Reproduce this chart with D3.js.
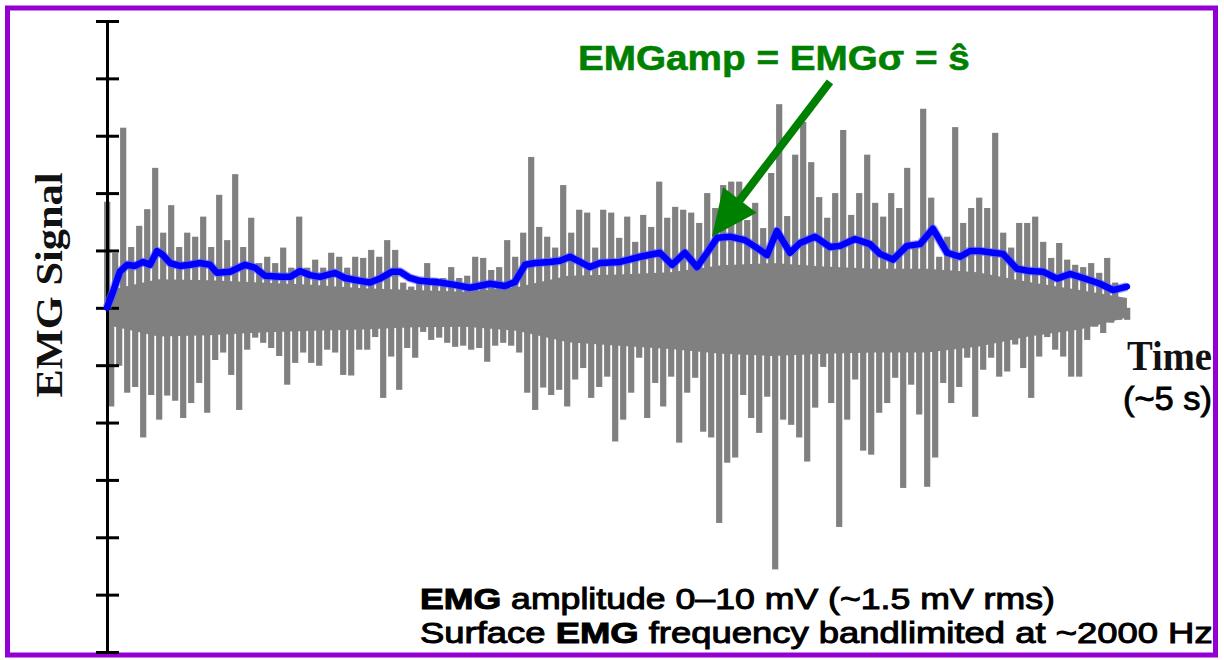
<!DOCTYPE html>
<html>
<head>
<meta charset="utf-8">
<script src="https://cdn.jsdelivr.net/npm/d3@7"></script>
<style>
  body { margin: 0; background: #fff; }
  svg { display: block; }
</style>
</head>
<body>
<script>
'use strict';

// positive excursions of the raw EMG trace (mV), one every other sample
const peaks = [
  1.85, 0.96, 3.14, 1.06, 1.43, 1.72, 2.44, 1.31, 1.79, 1.06, 1.31, 1.24, 1.59, 1.06, 1.97, 1.18,
  2.33, 1.06, 1.57, 0.78, 0.89, 0.78, 1.05, 0.70, 1.59, 0.70, 0.84, 0.70, 0.96, 0.89, 0.70, 0.89,
  0.87, 1.01, 0.89, 1.18, 1.01, 0.44, 0.37, 0.52, 0.78, 0.52, 0.52, 0.71, 0.52, 0.56, 0.89, 0.87,
  0.66, 0.71, 1.18, 0.89, 1.31, 2.63, 1.41, 1.24, 1.05, 2.14, 1.31, 1.71, 1.66, 1.05, 1.71, 1.66,
  1.22, 1.59, 1.15, 1.62, 1.41, 2.20, 1.57, 1.76, 1.71, 1.66, 1.48, 2.00, 1.74, 2.14, 2.20, 2.20,
  1.53, 1.83, 1.39, 2.35, 3.55, 1.60, 2.67, 3.24, 2.54, 1.93, 1.57, 2.00, 3.10, 1.62, 2.00, 2.67,
  1.83, 1.59, 2.00, 1.74, 2.44, 1.05, 3.47, 1.92, 0.89, 1.24, 3.15, 1.48, 1.74, 1.92, 1.74, 3.05,
  1.31, 1.05, 1.48, 1.48, 1.59, 1.15, 0.87, 1.13, 0.84, 0.75, 0.71, 0.78, 0.61, 0.87, 0.44, 0.17
];
// negative excursions (mV, as depths below zero), interleaved with the peaks
const troughs = [
  1.72, 1.01, 1.48, 1.38, 2.26, 1.52, 1.95, 1.53, 1.62, 1.92, 1.66, 1.31, 1.83, 0.91, 0.78, 1.17,
  1.78, 0.73, 0.52, 0.61, 0.70, 0.84, 1.34, 0.96, 0.78, 0.96, 1.01, 0.73, 0.78, 1.17, 1.18, 0.73,
  0.73, 0.51, 1.57, 0.85, 1.43, 0.70, 0.87, 0.42, 0.56, 0.52, 0.61, 0.68, 0.66, 0.73, 0.70, 0.94,
  0.66, 0.61, 0.66, 0.78, 1.48, 1.78, 1.39, 1.52, 1.43, 1.72, 1.25, 1.05, 1.57, 1.38, 1.20, 2.33,
  1.95, 1.48, 0.87, 1.92, 1.31, 1.72, 1.20, 2.35, 1.48, 1.22, 2.16, 2.26, 3.75, 2.70, 2.61, 1.52,
  1.92, 2.18, 1.55, 4.56, 1.95, 2.04, 2.26, 2.68, 1.74, 1.03, 1.66, 3.82, 1.95, 1.25, 2.49, 2.56,
  1.83, 1.66, 1.22, 3.14, 1.34, 1.86, 3.12, 2.61, 1.31, 1.66, 1.38, 0.87, 1.90, 1.08, 0.87, 1.20,
  1.11, 0.64, 1.05, 1.57, 0.85, 0.51, 0.73, 0.85, 1.20, 1.20, 0.56, 0.33, 0.44, 0.26, 0.21, 0.21
];

// extent of the dense, solid part of the trace around zero (mV), every 0.25 s
const coreTime  = [0, 0.25, 0.5, 0.75, 1, 1.25, 1.5, 1.75, 2, 2.25, 2.5, 2.75, 3, 3.25, 3.5, 3.75, 4, 4.25, 4.5, 4.75, 4.98];
const coreUpper = [0.30, 0.50, 0.48, 0.44, 0.40, 0.34, 0.31, 0.28, 0.36, 0.56, 0.58, 0.62, 0.74, 0.78, 0.72, 0.68, 0.68, 0.62, 0.45, 0.31, 0.17];
const coreLower = [0.30, 0.50, 0.48, 0.43, 0.40, 0.38, 0.34, 0.33, 0.40, 0.60, 0.66, 0.72, 0.80, 0.84, 0.80, 0.78, 0.78, 0.68, 0.50, 0.38, 0.17];

// amplitude estimate (EMG sigma), time in s and value in mV
const envTime = [
  0, 0.029, 0.063, 0.098, 0.137, 0.176, 0.210, 0.244, 0.273, 0.308, 0.356, 0.405, 0.454, 0.503,
  0.537, 0.601, 0.674, 0.723, 0.771, 0.845, 0.894, 0.942, 0.991, 1.040, 1.113, 1.162, 1.235,
  1.284, 1.333, 1.392, 1.431, 1.479, 1.528, 1.626, 1.699, 1.772, 1.870, 1.943, 1.992, 2.041,
  2.090, 2.163, 2.212, 2.261, 2.310, 2.358, 2.407, 2.505, 2.603, 2.700, 2.759, 2.822, 2.881,
  2.930, 2.979, 3.042, 3.115, 3.188, 3.223, 3.271, 3.335, 3.384, 3.457, 3.530, 3.579, 3.652,
  3.726, 3.774, 3.838, 3.906, 3.970, 4.033, 4.102, 4.165, 4.214, 4.263, 4.326, 4.375, 4.443,
  4.507, 4.570, 4.639, 4.702, 4.766, 4.849, 4.912, 4.980
];
const envValue = [
  0, 0.28, 0.63, 0.75, 0.73, 0.80, 0.75, 0.99, 0.92, 0.78, 0.73, 0.75, 0.78, 0.75,
  0.61, 0.63, 0.75, 0.70, 0.56, 0.54, 0.54, 0.64, 0.57, 0.54, 0.61, 0.52, 0.47,
  0.44, 0.51, 0.63, 0.63, 0.52, 0.47, 0.44, 0.40, 0.35, 0.42, 0.38, 0.45, 0.75,
  0.78, 0.80, 0.82, 0.89, 0.80, 0.71, 0.78, 0.80, 0.89, 0.96, 0.75, 0.96, 0.71,
  0.96, 1.22, 1.24, 1.18, 1.01, 0.92, 1.34, 0.96, 1.13, 1.24, 1.06, 1.08, 1.20,
  1.11, 0.94, 0.84, 1.08, 1.11, 1.38, 0.96, 0.89, 0.99, 0.99, 0.96, 0.94, 0.68,
  0.64, 0.63, 0.51, 0.59, 0.52, 0.42, 0.31, 0.37
];

const yTicks = [-6, -5, -4, -3, -2, -1, 0, 1, 2, 3, 4, 5];
const annotation = 'EMGamp = EMG\u03c3 = \u015d';
const noteLines = ['amplitude 0\u201310 mV (~1.5 mV rms)', 'frequency bandlimited at ~2000 Hz'];

const width = 1224, height = 660;
const svg = d3.select('body').append('svg').attr('width', width).attr('height', height);

const x = d3.scaleLinear().domain([0, 5]).range([107, 1131]);
const y = d3.scaleLinear().domain([-6, 5]).range([652, 21]);

// frame
svg.append('rect')
  .attr('x', 7.5).attr('y', 8).attr('width', 1208).attr('height', 647)
  .attr('fill', 'none').attr('stroke', '#9400d3').attr('stroke-width', 5);

// raw signal: dense core plus individual spikes
const gray = '#808080';
const dt = 5 / (peaks.length * 2);

const core = coreTime.map(function(t, i){ return {t: t, hi: coreUpper[i], lo: -coreLower[i]}; });
svg.append('path')
  .attr('d', d3.area()
    .x(function(d){ return x(d.t); })
    .y0(function(d){ return y(d.lo); })
    .y1(function(d){ return y(d.hi); })(core))
  .attr('fill', gray);

const spikes = [];
peaks.forEach(function(p, k){
  spikes.push({t: 2 * k * dt, v: p});
  spikes.push({t: (2 * k + 1) * dt, v: -troughs[k]});
});
svg.append('g').selectAll('rect')
  .data(spikes)
  .join('rect')
  .attr('x', function(d){ return x(d.t) - 2.9; })
  .attr('width', 6.2)
  .attr('y', function(d){ return y(Math.max(d.v, 0)); })
  .attr('height', function(d){ return Math.abs(y(d.v) - y(0)); })
  .attr('fill', gray);

// y axis with cross ticks
const axisL = d3.axisLeft(y).tickValues(yTicks).tickSize(11).tickSizeOuter(0).tickFormat('');
const axisR = d3.axisRight(y).tickValues(yTicks).tickSize(12).tickSizeOuter(0).tickFormat('');
const gL = svg.append('g').attr('transform', 'translate(107,0)').call(axisL);
const gR = svg.append('g').attr('transform', 'translate(107,0)').call(axisR);
gR.select('.domain').remove();
svg.selectAll('.tick line').attr('stroke', '#000').attr('stroke-width', 3);
gL.select('.domain').attr('stroke', '#000').attr('stroke-width', 3);

// envelope
const line = d3.line()
  .x(function(d){ return x(d.t); })
  .y(function(d){ return y(d.v); });
const env = envTime.map(function(t, i){ return {t: t, v: envValue[i]}; });
svg.append('path')
  .attr('d', line(env))
  .attr('fill', 'none')
  .attr('stroke', '#5c5cff')
  .attr('stroke-width', 9)
  .attr('stroke-opacity', 0.55)
  .attr('stroke-linejoin', 'round');
svg.append('path')
  .attr('d', line(env))
  .attr('fill', 'none')
  .attr('stroke', '#0000ff')
  .attr('stroke-width', 6.5)
  .attr('stroke-linejoin', 'round')
  .attr('stroke-linecap', 'round');

function fitWidth(sel, x0, target){
  const w = sel.node().getBBox().width;
  sel.attr('transform', 'translate(' + x0 + ',0) scale(' + (target / w) + ',1) translate(' + (-x0) + ',0)');
}

// annotation with arrow
const green = '#008000';
const title = svg.append('text')
  .attr('x', 578).attr('y', 70)
  .attr('font-family', 'Liberation Sans, Arial, sans-serif')
  .attr('font-weight', 'bold').attr('font-size', 36)
  .attr('fill', green).attr('stroke', green).attr('stroke-width', 0.6)
  .text(annotation);
fitWidth(title, 578, 392);

const from = [x(3.53), y(3.94)], tip = [x(2.954), y(1.24)];
const dx = tip[0] - from[0], dy = tip[1] - from[1], len = Math.hypot(dx, dy);
const ux = dx / len, uy = dy / len, headLen = 46, headW = 21;
const base = [tip[0] - ux * headLen, tip[1] - uy * headLen];
svg.append('line')
  .attr('x1', from[0]).attr('y1', from[1])
  .attr('x2', base[0] + ux * 4).attr('y2', base[1] + uy * 4)
  .attr('stroke', green).attr('stroke-width', 8);
svg.append('path')
  .attr('d', 'M' + tip[0] + ',' + tip[1] +
    'L' + (base[0] - uy * headW) + ',' + (base[1] + ux * headW) +
    'L' + (base[0] + uy * headW) + ',' + (base[1] - ux * headW) + 'Z')
  .attr('fill', green);

// axis titles
svg.append('text')
  .attr('transform', 'translate(62,285) rotate(-90)')
  .attr('text-anchor', 'middle')
  .attr('font-family', 'Liberation Serif, Times New Roman, serif')
  .attr('font-weight', 'bold').attr('font-size', 38)
  .attr('fill', '#111')
  .attr('textLength', 225).attr('lengthAdjust', 'spacingAndGlyphs')
  .text('EMG Signal');

svg.append('text')
  .attr('x', 1127).attr('y', 370)
  .attr('font-family', 'Liberation Serif, Times New Roman, serif')
  .attr('font-weight', 'bold').attr('font-size', 42)
  .attr('fill', '#111')
  .attr('textLength', 85).attr('lengthAdjust', 'spacingAndGlyphs')
  .text('Time');

svg.append('text')
  .attr('x', 1123).attr('y', 410)
  .attr('font-family', 'Liberation Sans, Arial, sans-serif')
  .attr('font-size', 33)
  .attr('fill', '#000').attr('stroke', '#000').attr('stroke-width', 0.9)
  .attr('textLength', 89).attr('lengthAdjust', 'spacingAndGlyphs')
  .text('(~5 s)');

// notes
const noteWidths = [635, 793];
noteLines.forEach(function(txt, i){
  const t = svg.append('text')
    .attr('x', 420).attr('y', 609 + i * 34)
    .attr('font-family', 'Liberation Sans, Arial, sans-serif')
    .attr('font-size', 30)
    .attr('fill', '#000').attr('stroke', '#000').attr('stroke-width', 1);
  if (i === 0) {
    t.append('tspan').attr('font-weight', 'bold').text('EMG');
    t.append('tspan').text(' ' + txt);
  } else {
    t.append('tspan').text('Surface ');
    t.append('tspan').attr('font-weight', 'bold').text('EMG');
    t.append('tspan').text(' ' + txt);
  }
  fitWidth(t, 420, noteWidths[i]);
});
</script>
</body>
</html>
